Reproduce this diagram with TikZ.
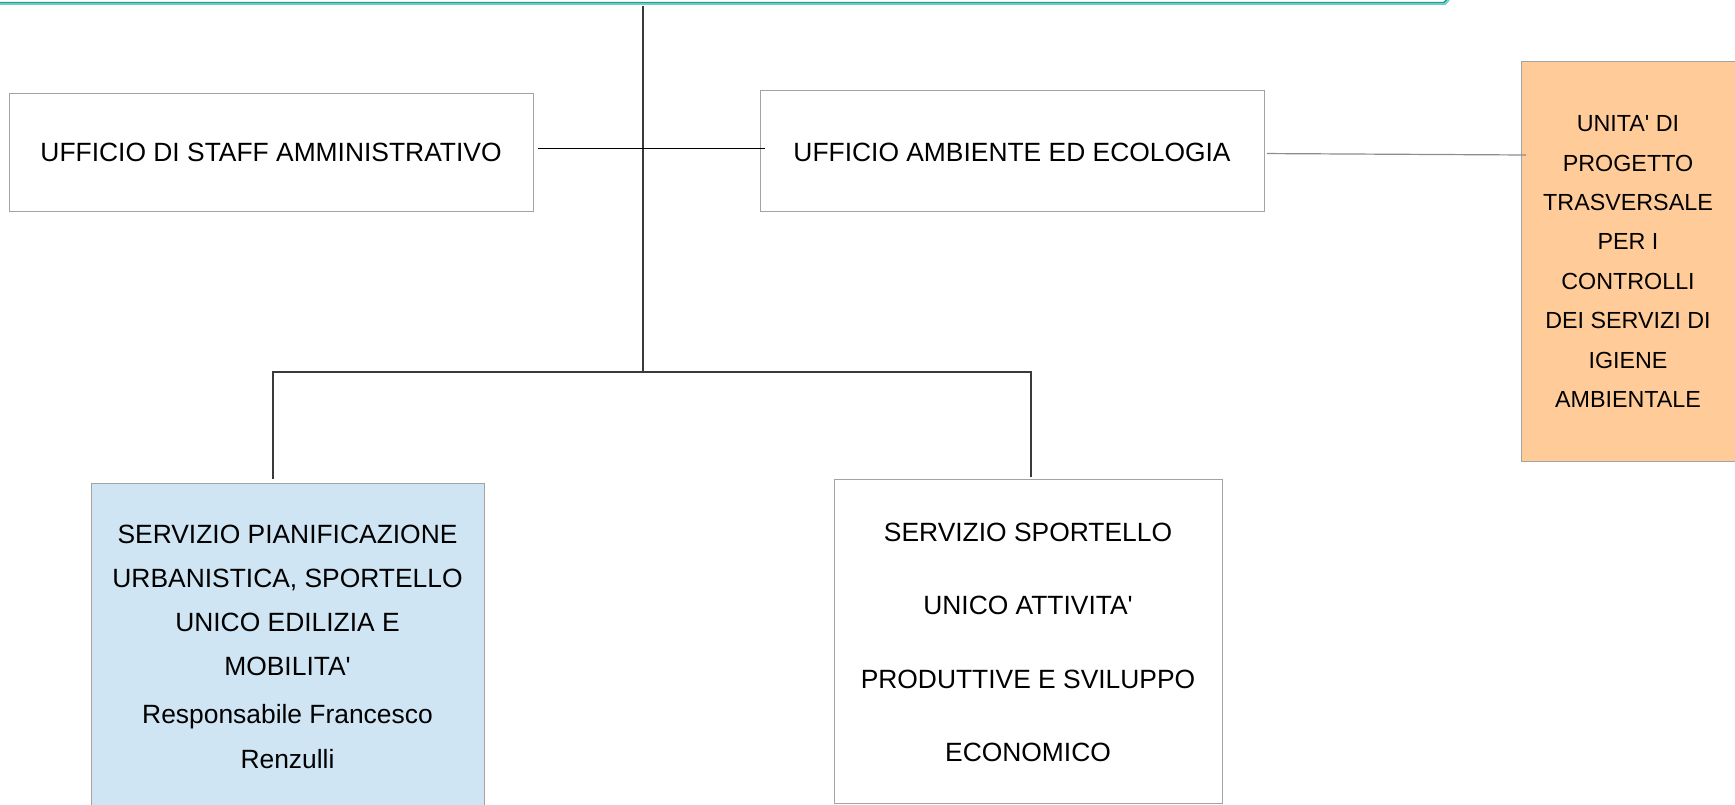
\documentclass[tikz,border=0pt]{standalone}
\usepackage{fontspec}
\setmainfont{Liberation Sans}[Ligatures=TeXOff]
\usetikzlibrary{calc}
\definecolor{boxgray}{HTML}{A3A3A3}
\definecolor{bluefill}{HTML}{CFE5F3}
\definecolor{orangefill}{HTML}{FFCC99}
\definecolor{tealdark}{HTML}{1E9E95}
\definecolor{teallight}{HTML}{6CCFC7}
\definecolor{linedark}{HTML}{3A3A3A}
\definecolor{linegray}{HTML}{8C8C8C}
\begin{document}
\begin{tikzpicture}[x=1pt,y=-1pt,
  box/.style={draw=boxgray, line width=1.1pt, inner sep=0pt, anchor=north west},
  txt/.style={font=\fontsize{26.4}{26.4}\selectfont, inner sep=0pt, anchor=base, text=black},
  txtsmall/.style={font=\fontsize{23.3}{23.3}\selectfont, inner sep=0pt, anchor=base, text=black},
  conn/.style={draw=linedark, line width=1.2pt},
  connblack/.style={draw=black, line width=1.2pt},
  conngray/.style={draw=linegray, line width=1.2pt}]
\useasboundingbox (0,0) rectangle (1735,805);

% top frame (cut off)
\draw[teallight, line width=1.6pt] (-5,4.2) -- (1445,4.2) -- (1449,0.2);
\draw[tealdark, line width=1.6pt] (-5,2.6) -- (1444,2.6) -- (1447,-0.4);

% boxes
\node[box, minimum width=524pt, minimum height=118pt] (staff) at (9,93) {};
\node[box, minimum width=504pt, minimum height=121pt] (amb) at (760,90) {};
\node[box, fill=orangefill, minimum width=213.5pt, minimum height=400pt] (orange) at (1521,61) {};
\node[box, fill=bluefill, minimum width=393pt, minimum height=340pt] (blue) at (91,483) {};
\node[box, minimum width=388pt, minimum height=324pt] (sport) at (834,479) {};

% texts
\node[txt] (tstaff) at (271,161.5) {UFFICIO DI STAFF AMMINISTRATIVO};
\node[txt] (tamb) at (1012,161.5) {UFFICIO AMBIENTE ED ECOLOGIA};

\node[txtsmall] (o1) at (1628,131.7) {UNITA' DI};
\node[txtsmall] (o2) at (1628,171.1) {PROGETTO};
\node[txtsmall] (o3) at (1628,210.5) {TRASVERSALE};
\node[txtsmall] (o4) at (1628,249.9) {PER I};
\node[txtsmall] (o5) at (1628,289.3) {CONTROLLI};
\node[txtsmall] (o6) at (1628,328.7) {DEI SERVIZI DI};
\node[txtsmall] (o7) at (1628,368.1) {IGIENE};
\node[txtsmall] (o8) at (1628,407.5) {AMBIENTALE};

\node[txt] (b1) at (287.5,543) {SERVIZIO PIANIFICAZIONE};
\node[txt] (b2) at (287.5,587) {URBANISTICA, SPORTELLO};
\node[txt] (b3) at (287.5,631.5) {UNICO EDILIZIA E};
\node[txt] (b4) at (287.5,675.5) {MOBILITA'};
\node[txt] (b5) at (287.5,723.5) {Responsabile Francesco};
\node[txt] (b6) at (287.5,768) {Renzulli};

\node[txt] (s1) at (1028,541.5) {SERVIZIO SPORTELLO};
\node[txt] (s2) at (1028,614.5) {UNICO ATTIVITA'};
\node[txt] (s3) at (1028,688) {PRODUTTIVE E SVILUPPO};
\node[txt] (s4) at (1028,761) {ECONOMICO};

% connectors
\coordinate (top) at (643,6);
\coordinate (bus) at (643,373);
\coordinate (bl) at (273,372);
\coordinate (br) at (1031,372);
\draw[conn] (top) -- (bus);
\draw[connblack] ($(staff.east)+(4,-4)$) -- ($(amb.west)+(5,-2.5)$);
\draw[conn] ($(bl |- blue.north)+(0,-4)$) -- (bl) -- (br) -- ($(br |- sport.north)+(0,-2)$);
\draw[conngray] ($(amb.east)+(2,2.5)$) -- ($(orange.north west)+(5,94)$);
\end{tikzpicture}
\end{document}
